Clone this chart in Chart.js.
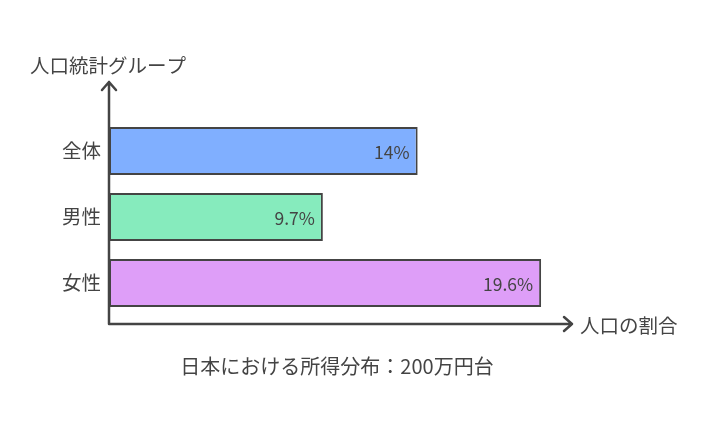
<!DOCTYPE html>
<html>
<head>
<meta charset="utf-8">
<script src="https://cdn.jsdelivr.net/npm/chart.js@4"></script>
<style>
  html, body { margin: 0; padding: 0; background: #fff; }
  #wrap { width: 710px; height: 422px; }
</style>
</head>
<body>
<div id="wrap"><canvas id="chart" width="710" height="422"></canvas></div>
<script>
const groups = ["全体", "男性", "女性"];
const shares = [14, 9.7, 19.6];
const barColors = ["#80AFFF", "#86EBBD", "#DE9EF8"];
const xTitle = "人口の割合";
const yTitle = "人口統計グループ";
const chartTitle = "日本における所得分布：200万円台";

const FONT = "'Noto Sans CJK JP', 'Noto Sans', sans-serif";
const INK = "#444";

// axes with arrows, axis titles, bottom title and value labels
const decor = {
  id: "decor",
  afterDatasetsDraw(chart) {
    const ctx = chart.ctx;
    const a = chart.chartArea;
    const x0 = a.left, yb = a.bottom + 8;
    const yTop = a.top - 36, xEnd = a.right;
    ctx.save();
    ctx.strokeStyle = INK;
    ctx.lineWidth = 2.5;
    ctx.lineCap = "round";
    ctx.lineJoin = "round";
    ctx.beginPath();
    ctx.moveTo(x0, yb);
    ctx.lineTo(x0, yTop);
    ctx.moveTo(x0 - 7, yTop + 8);
    ctx.lineTo(x0, yTop);
    ctx.lineTo(x0 + 7, yTop + 8);
    ctx.moveTo(x0, yb);
    ctx.lineTo(xEnd, yb);
    ctx.moveTo(xEnd - 8, yb - 7);
    ctx.lineTo(xEnd, yb);
    ctx.lineTo(xEnd - 8, yb + 7);
    ctx.stroke();

    ctx.fillStyle = INK;
    ctx.font = "19.5px " + FONT;
    ctx.textBaseline = "middle";
    ctx.textAlign = "left";
    ctx.fillText(yTitle, 30, 66);
    ctx.fillText(xTitle, xEnd + 8, yb + 2);

    ctx.textAlign = "center";
    ctx.font = "20px " + FONT;
    ctx.fillText(chartTitle, 337, 366);

    ctx.textAlign = "right";
    ctx.font = "17.5px " + FONT;
    chart.getDatasetMeta(0).data.forEach((bar, i) => {
      ctx.fillText(shares[i] + "%", bar.x - 8, bar.y + 1);
    });
    ctx.restore();
  }
};

new Chart(document.getElementById("chart"), {
  type: "bar",
  data: {
    labels: groups,
    datasets: [{
      data: shares,
      backgroundColor: barColors,
      borderColor: INK,
      borderWidth: 2,
      borderSkipped: false,
      barPercentage: 0.727,
      categoryPercentage: 1
    }]
  },
  options: {
    indexAxis: "y",
    responsive: false,
    animation: false,
    layout: { padding: { left: 0, right: 138, top: 118, bottom: 106 } },
    plugins: { legend: { display: false }, tooltip: { enabled: false } },
    scales: {
      x: { display: false, min: 0, max: 21 },
      y: {
        grid: { display: false, drawTicks: false },
        border: { display: false },
        ticks: { color: INK, padding: 8, font: { size: 19.5, family: FONT } },
        afterFit(s) { s.width = 109; }
      }
    }
  },
  plugins: [decor]
});
</script>
</body>
</html>
